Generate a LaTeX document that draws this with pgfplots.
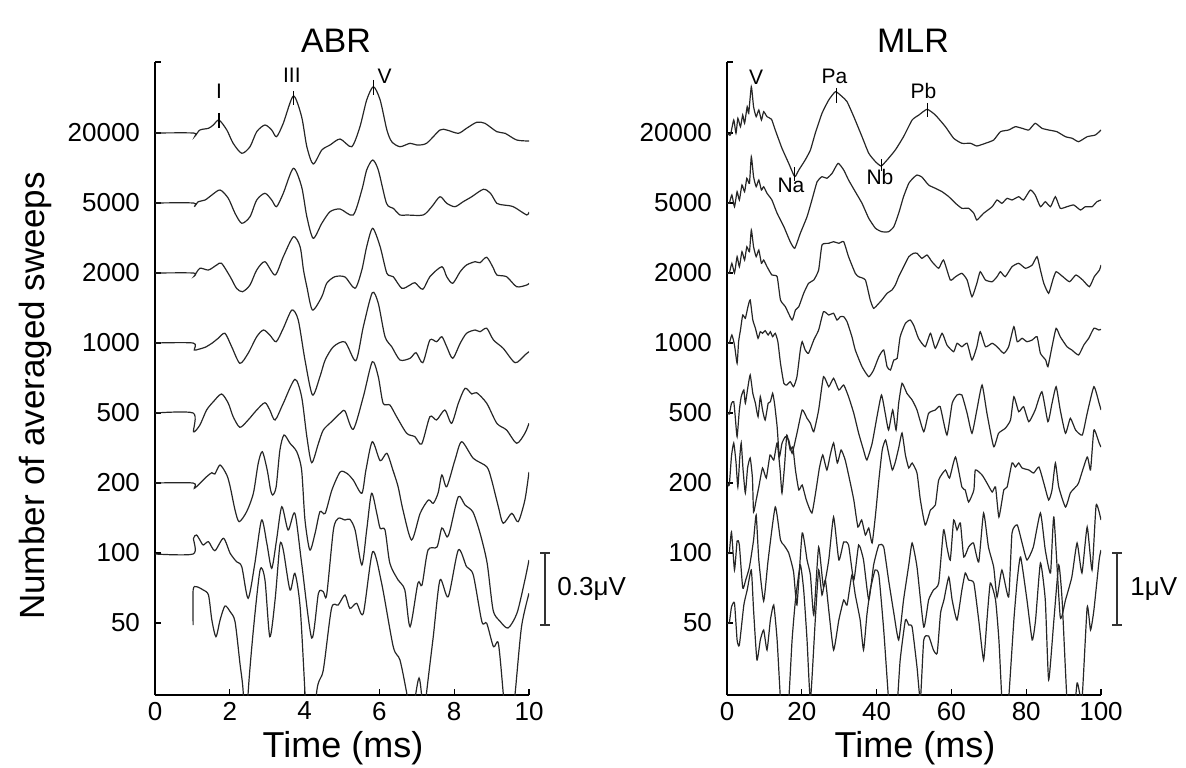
\documentclass[border=0pt]{standalone}
\usepackage{fontspec}
\setmainfont{Liberation Sans}
\usepackage{pgfplots}
\pgfplotsset{compat=1.18}
\pgfplotsset{
  trace/.style={black!85, line width=0.6pt, smooth, tension=0.45, no markers},
  mtrace/.style={black!85, line width=0.6pt, smooth, tension=0.3, no markers},
  pk/.style={black, line width=0.6pt, no markers},
  panel/.style={
    anchor=south west, width=187pt, height=316.5pt, scale only axis,
    ymin=-695, ymax=-62,
    axis x line=bottom, axis y line=left,
    axis line style={-, line width=0.6pt},
    ytick={-62,-133,-203,-273,-343,-413,-483,-553,-623},
    yticklabels={,20000,5000,2000,1000,500,200,100,50},
    tick align=inside, major tick length=3pt,
    tick style={black, line width=0.6pt},
    ticklabel style={font=\fontsize{13}{15}\selectfont},
    yticklabel style={xshift=-4pt},
  },
}
\begin{document}
\begin{tikzpicture}
\useasboundingbox (-77.5pt,-36pt) rectangle (515.5pt,347.5pt);
% ---------------- ABR ----------------
\begin{axis}[panel, at={(0pt,0pt)}, xmin=0, xmax=10,
  xtick={0,2,4,6,8,10}, xticklabels={0,2,4,6,8,10}]
\addplot[trace] coordinates {(0,-133) (1.03,-133) (1.07,-136) (1.20,-130) (1.43,-128.3) (1.56,-125) (1.71,-120) (1.92,-130) (2.09,-143.3) (2.32,-153.3) (2.54,-146.7) (2.72,-131.7) (2.94,-125) (3.12,-130) (3.25,-136.7) (3.43,-123.3) (3.70,-96) (3.92,-116.7) (4.06,-146.7) (4.23,-164) (4.46,-150) (4.68,-145) (4.95,-139) (5.26,-146.7) (5.48,-126.7) (5.66,-100) (5.84,-86.7) (6.02,-100) (6.20,-130) (6.33,-141.7) (6.55,-146.7) (6.82,-143.3) (7.00,-145) (7.26,-143.3) (7.62,-130) (7.80,-130) (8.11,-133.3) (8.33,-128.3) (8.60,-122.3) (8.82,-123.3) (9.14,-131.7) (9.36,-133.3) (9.67,-140) (10,-141)};
\addplot[trace] coordinates {(0,-203) (1.03,-203) (1.05,-206.7) (1.16,-201.7) (1.34,-200) (1.52,-195) (1.74,-190) (1.96,-198.3) (2.14,-213.3) (2.32,-223.3) (2.54,-216.7) (2.72,-200) (2.94,-193.3) (3.12,-200) (3.25,-206.7) (3.43,-193.3) (3.70,-168.3) (3.92,-186.7) (4.06,-216.7) (4.23,-238.3) (4.46,-223.3) (4.68,-211.7) (4.95,-209) (5.30,-215) (5.53,-190) (5.66,-170) (5.82,-160) (5.97,-170) (6.19,-203.3) (6.37,-208.3) (6.55,-215) (6.73,-215) (7.17,-215) (7.40,-206.7) (7.62,-196.7) (7.80,-203.3) (8.02,-206.7) (8.24,-201.7) (8.47,-196.7) (8.78,-189.3) (8.97,-193.3) (9.14,-203.3) (9.32,-205) (9.58,-206.7) (9.94,-215) (10,-212)};
\addplot[trace] coordinates {(0,-273) (1.03,-273) (1.05,-276) (1.20,-268.3) (1.43,-270) (1.65,-265) (1.78,-263.3) (2.01,-276.7) (2.18,-288.3) (2.34,-291.7) (2.54,-285) (2.72,-270) (2.94,-261.7) (3.21,-275) (3.43,-256.7) (3.70,-236.7) (3.88,-246.7) (3.97,-270) (4.06,-286.7) (4.21,-310) (4.46,-296.7) (4.59,-283.3) (4.81,-276.7) (5.08,-277) (5.35,-288.3) (5.53,-270) (5.66,-246.7) (5.82,-228.3) (6.02,-246.7) (6.20,-273.3) (6.37,-276.7) (6.60,-288.3) (6.82,-285) (6.95,-282.7) (7.16,-289.3) (7.35,-276.7) (7.67,-266.7) (7.80,-276.7) (7.96,-283.3) (8.16,-271.7) (8.33,-265) (8.56,-261.7) (8.69,-262.7) (8.87,-257.3) (9.05,-268.3) (9.14,-275) (9.40,-276.7) (9.67,-286.7) (9.94,-285) (10,-283.3)};
\addplot[trace] coordinates {(0,-343) (1.02,-343) (1.05,-350) (1.16,-349.3) (1.34,-347.3) (1.52,-343.3) (1.69,-338.3) (1.87,-333.3) (2.05,-346.7) (2.27,-363.3) (2.49,-353.3) (2.72,-336.7) (2.90,-330) (3.07,-335) (3.24,-341.7) (3.43,-328.3) (3.66,-310) (3.83,-320) (4.01,-360) (4.21,-395) (4.41,-376.7) (4.55,-360) (4.77,-346.7) (5.08,-342) (5.37,-360.7) (5.57,-326.7) (5.81,-292.7) (5.97,-303.3) (6.15,-336.7) (6.33,-346.7) (6.55,-360) (6.82,-358.3) (6.98,-352.7) (7.16,-362.7) (7.35,-340) (7.53,-341.7) (7.67,-336.7) (7.80,-346.7) (7.96,-358.3) (8.16,-343.3) (8.33,-333.3) (8.56,-330) (8.69,-331.7) (8.87,-328.3) (9.05,-340) (9.31,-348.3) (9.63,-362.7) (9.89,-355) (10,-351.7)};
\addplot[trace] coordinates {(0,-413) (1.02,-413) (1.03,-431.7) (1.20,-425) (1.38,-410) (1.56,-401.7) (1.78,-394) (1.96,-403.3) (2.09,-416.7) (2.27,-427.3) (2.49,-420) (2.72,-410) (2.94,-402.7) (3.07,-410) (3.21,-420) (3.43,-403.3) (3.74,-379.3) (3.92,-396.7) (4.06,-436.7) (4.19,-462.7) (4.37,-443.3) (4.50,-430) (4.72,-421.7) (4.95,-413.3) (5.08,-411) (5.30,-429.3) (5.57,-396.7) (5.81,-361.7) (5.97,-376.7) (6.10,-403.3) (6.28,-405) (6.46,-416.7) (6.73,-433.3) (6.95,-436.7) (7.13,-444) (7.35,-416.7) (7.53,-420) (7.75,-410) (7.93,-423.3) (8.11,-403.3) (8.29,-388.3) (8.47,-394) (8.60,-392.7) (8.87,-403.3) (9.14,-423.3) (9.40,-430) (9.67,-443.3) (9.89,-433.3) (10,-423.3)};
\addplot[trace] coordinates {(0,-483) (1.02,-483) (1.05,-488.3) (1.20,-483.3) (1.38,-476.7) (1.52,-472.7) (1.60,-474) (1.74,-465) (1.92,-475) (2.01,-486.7) (2.14,-510) (2.25,-521.7) (2.45,-511.7) (2.63,-493.3) (2.76,-463.3) (2.87,-451.7) (3.00,-470) (3.09,-490) (3.15,-495) (3.24,-486.7) (3.34,-450) (3.45,-435) (3.61,-443.3) (3.79,-451.7) (3.92,-470) (4.01,-520) (4.14,-550) (4.28,-533.3) (4.41,-511.7) (4.55,-513.3) (4.73,-490) (4.95,-472) (5.13,-473.3) (5.30,-480) (5.53,-493.3) (5.64,-470) (5.81,-441.7) (6.02,-460.7) (6.20,-453.3) (6.36,-470) (6.50,-486.7) (6.63,-510) (6.86,-540) (7.09,-513.3) (7.31,-500) (7.44,-503.3) (7.57,-493) (7.67,-475) (7.80,-486.7) (8.02,-460) (8.20,-441.7) (8.51,-458.3) (8.87,-466.7) (9.00,-480) (9.18,-506.7) (9.31,-523.3) (9.54,-513.3) (9.71,-521.7) (9.89,-500) (10,-472)};
\addplot[trace] coordinates {(0,-554) (1.02,-554) (1.03,-538.3) (1.11,-535) (1.20,-540) (1.29,-545) (1.43,-541.7) (1.60,-550.7) (1.83,-538.3) (2.01,-553.3) (2.18,-561.7) (2.32,-566.7) (2.49,-598.3) (2.67,-563.3) (2.85,-520) (2.99,-543.3) (3.12,-568.3) (3.25,-540) (3.39,-506.7) (3.56,-530) (3.74,-513.3) (3.92,-563) (4.19,-638) (4.37,-593.3) (4.50,-591.7) (4.59,-595) (4.77,-530) (4.90,-518.3) (5.08,-520) (5.21,-519.3) (5.35,-530) (5.53,-565) (5.66,-530) (5.79,-493.3) (5.93,-513.3) (6.02,-528.3) (6.15,-530) (6.28,-563.3) (6.50,-580) (6.68,-590) (6.82,-626.7) (7.03,-583) (7.14,-585) (7.30,-550) (7.54,-547) (7.67,-528) (7.81,-537) (7.89,-530) (8.11,-496.7) (8.29,-505) (8.50,-512) (8.69,-533) (8.88,-563) (9.04,-610) (9.22,-621) (9.44,-628) (9.68,-613) (9.89,-580) (10,-560)};
\addplot[trace] coordinates {(1.02,-625) (1.02,-590) (1.11,-586.7) (1.29,-590) (1.43,-595) (1.52,-620) (1.63,-636.7) (1.74,-620) (1.87,-606) (2.01,-611.7) (2.14,-621.7) (2.27,-663) (2.36,-693) (2.42,-760) (2.49,-693) (2.63,-630) (2.81,-570) (2.94,-580) (3.07,-636.7) (3.21,-600) (3.34,-545) (3.43,-550) (3.61,-590) (3.74,-573.3) (3.88,-606.7) (4.01,-693) (4.15,-800) (4.32,-693) (4.50,-670) (4.72,-608.3) (4.90,-605) (5.08,-595) (5.21,-608.3) (5.39,-603.3) (5.57,-613.3) (5.82,-551.7) (6.06,-583.3) (6.37,-646.7) (6.55,-660) (6.73,-693) (6.85,-720) (7.06,-678) (7.20,-720) (7.26,-693) (7.44,-636.7) (7.62,-580) (7.84,-596.7) (8.11,-550) (8.33,-566.7) (8.51,-575) (8.74,-621.7) (8.87,-623.3) (9.05,-646.7) (9.18,-643.3) (9.31,-693) (9.45,-760) (9.63,-693) (9.80,-626.7) (10,-593.3)};
% peak markers
\addplot[pk] coordinates {(1.71,-113) (1.71,-128)};
\addplot[pk] coordinates {(3.70,-91) (3.70,-105)};
\addplot[pk] coordinates {(5.84,-80) (5.84,-95)};
\node[font=\fontsize{10.5}{12}\selectfont, inner sep=0pt] at (axis cs:1.71,-91.5) {I};
\node[font=\fontsize{10.5}{12}\selectfont, inner sep=0pt] at (axis cs:3.66,-75.5) {III};
\node[font=\fontsize{10.5}{12}\selectfont, inner sep=0pt] at (axis cs:6.14,-76.5) {V};
\end{axis}
% ---------------- MLR ----------------
\begin{axis}[panel, at={(286pt,0pt)}, xmin=0, xmax=100,
  xtick={0,20,40,60,80,100}, xticklabels={0,20,40,60,80,100}]
\addplot[mtrace] coordinates {(0,-133) (0.9,-135) (1.8,-120) (2.4,-133.3) (2.9,-118.3) (3.6,-126.7) (4.2,-115) (4.7,-123.3) (5.4,-106.7) (5.8,-113.3) (6.5,-86.7) (7.1,-106.7) (7.8,-116.7) (8.5,-110) (9.2,-120) (9.8,-111.7) (10.7,-116.7) (11.9,-119.3) (12.9,-130) (14.7,-148.3) (16.5,-163.3) (18.1,-176.7) (19.2,-170) (20.9,-160) (22.3,-150) (23.6,-133.3) (25.4,-113.3) (27.2,-100) (29.0,-91.7) (30.8,-96.7) (32.1,-101.7) (33.9,-116.7) (36.1,-136.7) (37.9,-153.3) (39.7,-161.7) (41.2,-166) (42.8,-160) (45.0,-150) (47.2,-136.7) (49.5,-120) (51.3,-115) (53.5,-109.3) (55.7,-115) (58.4,-126.7) (60.6,-138.3) (62.8,-143.3) (65.1,-143.3) (66.8,-146) (69.1,-143.3) (71.3,-140) (73.1,-131.7) (75.3,-130) (77.1,-126.7) (78.9,-128.3) (80.7,-130) (82.4,-123.3) (84.2,-128.3) (86.0,-130) (88.2,-131.7) (90.5,-136.7) (92.3,-138.3) (94.0,-141.7) (96.3,-136.7) (98.5,-135) (100,-130)};
\addplot[mtrace] coordinates {(0,-203) (0.6,-203.3) (1.3,-195) (2.0,-206.7) (2.7,-191.7) (3.3,-200) (4.0,-185) (4.7,-191.7) (5.3,-178.3) (6.0,-183.3) (6.5,-156.7) (7.1,-176.7) (7.8,-186.7) (8.5,-180) (9.2,-190) (9.8,-186.7) (10.7,-193.3) (12.0,-200) (13.4,-213.3) (15.2,-226.7) (16.9,-241.7) (18.1,-248.3) (19.6,-233.3) (21.4,-216.7) (22.7,-200) (24.1,-181.7) (25.4,-176.7) (26.7,-178.3) (28.1,-173.3) (29.7,-163.3) (31.2,-170) (32.5,-180) (34.3,-191.7) (36.1,-203.3) (37.9,-218.3) (39.7,-228.3) (41.4,-231.7) (43.2,-231.7) (44.6,-226.7) (45.9,-213.3) (47.2,-196.7) (48.6,-183.3) (49.8,-178) (50.8,-175) (52.1,-177) (53.9,-185) (55.7,-188.3) (57.5,-191.7) (59.3,-196.7) (61.1,-203.3) (62.8,-208.3) (64.6,-208.3) (66.0,-213.3) (66.8,-220) (68.6,-213.3) (70.9,-206.7) (72.2,-200) (73.5,-203.3) (74.9,-198.3) (76.2,-200) (78.0,-196.7) (79.3,-200) (81.1,-190) (82.4,-195) (83.8,-206.7) (85.1,-201.7) (86.5,-206.7) (87.8,-196.7) (89.1,-208.3) (90.9,-206.7) (92.7,-205) (94.5,-210) (95.8,-206.7) (97.6,-206.7) (98.9,-201.7) (100,-200)};
\addplot[mtrace] coordinates {(0,-273) (0.6,-273.3) (1.3,-263.3) (2.0,-273) (2.7,-256.7) (3.3,-266.7) (4.0,-251.7) (4.7,-260) (5.3,-246.7) (6.0,-251.7) (6.5,-230) (7.1,-246.7) (7.8,-256.7) (8.5,-250) (9.2,-263.3) (9.8,-260) (10.7,-266.7) (12.0,-275) (13.4,-276.7) (14.3,-300) (15.6,-306.7) (17.4,-320) (18.3,-310) (19.2,-306.7) (20.5,-293.3) (21.8,-283.3) (23.2,-280) (24.5,-270) (25.4,-245) (27.2,-243.3) (28.5,-241.7) (29.9,-243.3) (31.2,-241.7) (32.5,-256.7) (34.3,-273.3) (35.2,-276.7) (37.0,-280) (38.3,-300) (39.2,-308.3) (40.6,-303.3) (41.4,-300) (42.8,-293.3) (44.1,-290) (45.0,-285) (45.9,-276.7) (46.8,-270) (48.6,-256.7) (49.9,-253.3) (50.8,-253.3) (52.1,-258.3) (53.5,-255) (54.8,-261.7) (56.6,-268.3) (57.9,-260) (59.7,-280) (61.1,-276.7) (62.8,-273.3) (64.2,-280) (65.5,-296.7) (66.8,-283.3) (67.7,-271.7) (69.1,-280) (70.9,-281.7) (72.2,-276.7) (73.1,-271.7) (74.4,-276.7) (76.2,-266.7) (78.0,-263.3) (79.8,-268.3) (81.6,-265) (82.9,-256.7) (83.8,-270) (84.7,-283.3) (86.0,-293.3) (87.1,-280) (88.0,-271.7) (89.8,-276.7) (91.6,-281.7) (93.3,-275) (95.1,-280) (96.9,-286.7) (98.2,-276.7) (99.6,-270) (100,-265)};
\addplot[mtrace] coordinates {(0,-343) (0.6,-343.3) (1.3,-335) (2.0,-345) (2.7,-363.3) (3.1,-341.7) (3.6,-330) (4.2,-315) (4.9,-318.3) (5.6,-306.7) (6.2,-300) (6.9,-320) (7.6,-328.3) (8.3,-338.3) (8.9,-331.7) (9.5,-333.3) (10.2,-330.7) (11.0,-335) (11.6,-331.7) (12.2,-336.7) (12.9,-333.3) (13.6,-341.7) (14.3,-363.3) (15.2,-383.3) (16.0,-385) (16.9,-381.7) (17.8,-386.7) (18.7,-376.7) (19.6,-350) (20.1,-341.7) (20.9,-350) (21.8,-353.3) (23.2,-340) (24.5,-330) (25.8,-311.7) (27.2,-315) (28.5,-313.3) (29.4,-320) (30.3,-316.7) (31.2,-316.7) (32.1,-321.7) (33.4,-336.7) (34.3,-350) (36.1,-366.7) (37.9,-376.7) (39.2,-370) (40.6,-356.7) (41.9,-350) (42.8,-366.7) (43.7,-370) (44.6,-360) (45.5,-358.3) (46.3,-336.7) (47.7,-323.3) (49.0,-320) (50.0,-326) (51.2,-338.3) (53.0,-346.7) (54.4,-333.3) (55.7,-348.3) (57.5,-333.3) (58.8,-345) (60.6,-351.7) (61.5,-343.3) (62.8,-346.7) (64.2,-343.3) (65.5,-360) (66.8,-346.7) (67.7,-331.7) (69.1,-346.7) (70.9,-343.3) (72.2,-346.7) (74.0,-353.3) (75.3,-346.7) (76.7,-326.7) (77.6,-341.7) (78.9,-338.3) (80.2,-341.7) (81.6,-340) (82.9,-336.7) (83.8,-353.3) (85.2,-360) (85.8,-366.7) (86.9,-346.7) (88.0,-328.3) (89.1,-336.7) (90.9,-346.7) (92.2,-350) (94.0,-355) (95.4,-345) (96.7,-338.3) (98.1,-328.3) (99.4,-330) (100,-329.3)};
\addplot[mtrace] coordinates {(0,-413) (0.6,-414) (1.2,-403.3) (1.8,-401.7) (2.2,-416.7) (2.7,-436.7) (3.3,-410) (3.8,-396.7) (4.5,-390) (4.9,-403.3) (5.6,-386.7) (6.2,-375) (6.9,-393.3) (7.6,-403.3) (8.3,-416.7) (8.9,-396.7) (9.5,-410) (10.2,-420) (11.0,-403.3) (11.6,-401.7) (12.2,-393.3) (12.7,-403.3) (13.4,-426.7) (14.0,-456.7) (14.7,-443.3) (15.6,-436.7) (16.5,-440) (17.4,-453.3) (18.7,-433.3) (20.1,-410) (21.4,-418.3) (22.3,-423.3) (23.2,-431.7) (24.5,-410) (25.8,-376.7) (27.2,-386.7) (28.5,-378.3) (29.9,-390) (31.2,-385) (32.5,-396.7) (33.9,-413.3) (35.2,-433.3) (36.5,-450) (37.4,-460) (38.8,-443.3) (40.1,-416.7) (41.3,-395) (42.3,-413.3) (43.2,-430) (44.3,-410) (45.2,-430) (45.9,-403.3) (46.8,-383.3) (48.1,-393.3) (49.5,-400) (50.8,-410) (52.6,-431.7) (53.9,-413.3) (55.7,-410) (57.0,-406.7) (58.8,-435) (60.2,-403.3) (61.5,-395) (62.8,-395) (64.2,-413.3) (65.5,-433.3) (66.8,-410) (68.2,-385) (69.5,-413.3) (71.3,-446.7) (72.6,-433.3) (74.4,-428.3) (75.8,-420) (76.7,-396.7) (78.0,-411.7) (79.3,-406.7) (80.7,-421.7) (82.4,-410) (84.2,-391.7) (85.8,-421.7) (86.9,-403.3) (88.0,-386.7) (89.1,-410) (90.5,-433.3) (91.8,-418.3) (93.2,-430) (95.0,-435) (96.3,-413.3) (98.1,-386.7) (99.5,-403.3) (100,-410)};
\addplot[mtrace] coordinates {(0,-483) (0.6,-485) (1.2,-456) (1.8,-443) (2.4,-462) (2.9,-487) (3.4,-458) (3.8,-443) (4.3,-470) (4.9,-493) (5.5,-468) (6.2,-458) (6.8,-478) (7.1,-512) (7.8,-500) (8.5,-487) (9.5,-468) (10.5,-478) (11.5,-455) (12.5,-460) (13.4,-443) (14.2,-470) (14.7,-493) (15.4,-465) (16.0,-435) (16.9,-450) (17.6,-447) (18.3,-470) (19.2,-490) (20.1,-485) (21.2,-500) (22.7,-513) (23.8,-490) (24.7,-468) (25.6,-455) (26.7,-470) (27.6,-455) (28.5,-443) (29.5,-463) (30.5,-450) (31.6,-460) (32.8,-480) (33.9,-500) (35.0,-527) (36.0,-520) (37.0,-535) (37.9,-528) (38.8,-543) (39.7,-515) (40.6,-480) (41.5,-450) (42.4,-440) (43.3,-455) (44.2,-470) (45.0,-462) (45.9,-448) (46.8,-433) (47.7,-455) (48.6,-468) (49.5,-463) (50.8,-473) (51.7,-500) (53.0,-525) (54.4,-510) (55.7,-505) (56.6,-480) (58.4,-470) (59.5,-478) (61.1,-457) (62.8,-487) (63.7,-490) (64.6,-502) (66.0,-490) (66.4,-470) (68.2,-475) (69.5,-483) (70.9,-492) (71.8,-487) (72.7,-517) (74.0,-490) (74.9,-487) (76.2,-463) (77.1,-467) (78.0,-463) (78.9,-468) (80.7,-470) (82.0,-473) (83.4,-467) (84.7,-483) (86.0,-500) (86.9,-490) (87.8,-463) (88.7,-487) (90.5,-507) (91.8,-493) (93.2,-487) (94.0,-483) (96.3,-457) (97.2,-470) (98.1,-430) (99.5,-443) (100,-447)};
\addplot[mtrace] coordinates {(0,-553) (0.6,-553) (1.2,-532) (2.0,-570) (2.7,-541) (3.3,-545) (4.2,-588) (5.0,-580) (6.0,-567) (7.1,-540) (7.8,-515) (8.5,-560) (9.8,-601) (11.0,-560) (12.9,-507) (14.3,-540) (15.2,-545) (16.5,-553) (17.8,-572) (18.7,-605) (20.1,-533) (21.4,-560) (22.3,-575) (23.2,-615) (24.5,-547) (25.8,-587) (27.2,-560) (28.5,-517) (29.9,-560) (31.2,-542) (32.5,-545) (33.9,-580) (35.2,-545) (36.5,-560) (37.9,-600) (39.2,-565) (40.6,-545) (41.9,-547) (43.2,-580) (44.6,-613) (45.9,-640) (47.2,-600) (48.6,-565) (49.5,-543) (50.8,-567) (52.6,-627) (53.9,-600) (55.2,-590) (56.6,-583) (57.9,-530) (58.8,-547) (59.7,-560) (60.6,-520) (61.5,-530) (62.4,-523) (63.3,-557) (64.6,-547) (65.9,-543) (67.3,-562) (68.6,-513) (69.9,-547) (71.3,-567) (72.2,-597) (73.5,-570) (75.3,-597) (76.2,-533) (77.6,-525) (78.9,-543) (80.2,-560) (81.9,-547) (83.8,-513) (85.1,-550) (86.5,-573) (87.4,-517) (89.1,-617) (90.5,-600) (92.2,-577) (93.6,-543) (94.9,-573) (96.3,-527) (97.6,-570) (98.7,-505) (100,-520)};
\addplot[mtrace] coordinates {(0,-623) (0.6,-623) (1.2,-607) (2.0,-603) (2.7,-640) (3.3,-645) (4.5,-605) (5.4,-590) (6.5,-570) (7.1,-610) (8.0,-660) (8.9,-640) (9.8,-630) (10.7,-650) (11.6,-620) (12.5,-605) (13.4,-640) (14.3,-700) (15.2,-740) (16.5,-700) (17.4,-640) (18.3,-600) (19.6,-565) (20.5,-590) (21.4,-640) (22.3,-700) (23.6,-620) (24.5,-570) (25.4,-595) (26.3,-580) (27.2,-610) (28.5,-650) (29.9,-620) (31.2,-600) (32.1,-605) (33.4,-575) (34.3,-595) (35.6,-620) (36.5,-650) (37.4,-615) (38.3,-590) (39.6,-570) (40.6,-575) (41.9,-630) (43.2,-700) (44.1,-740) (45.4,-710) (46.3,-660) (47.7,-620) (48.6,-625) (49.5,-627) (50.8,-667) (51.7,-700) (52.6,-640) (53.9,-636) (55.2,-650) (56.2,-653) (57.1,-613) (58.0,-600) (59.3,-577) (60.2,-600) (61.5,-620) (62.8,-590) (63.7,-573) (64.6,-580) (66.0,-583) (67.3,-620) (68.6,-660) (69.5,-620) (70.4,-583) (71.8,-600) (72.7,-640) (73.5,-700) (74.4,-740) (75.3,-700) (76.7,-620) (77.6,-580) (78.5,-557) (80.2,-600) (81.6,-640) (82.5,-620) (83.8,-563) (85.1,-600) (86.0,-680) (87.4,-620) (88.7,-565) (89.6,-600) (90.9,-700) (92.2,-740) (93.6,-683) (94.9,-700) (96.3,-607) (97.2,-630) (98.1,-610) (99.5,-560) (100,-550)};
% peak markers
\addplot[pk] coordinates {(29.2,-88) (29.2,-103)};
\addplot[pk] coordinates {(53.5,-103) (53.5,-117)};
\addplot[pk] coordinates {(18.1,-167) (18.1,-181)};
\addplot[pk] coordinates {(41.2,-159) (41.2,-171)};
\node[font=\fontsize{10.5}{12}\selectfont, inner sep=0pt] at (axis cs:7.8,-77) {V};
\node[font=\fontsize{10.5}{12}\selectfont, inner sep=0pt] at (axis cs:28.7,-76.5) {Pa};
\node[font=\fontsize{10.5}{12}\selectfont, inner sep=0pt] at (axis cs:52.5,-90.5) {Pb};
\node[font=\fontsize{10.5}{12}\selectfont, inner sep=0pt] at (axis cs:17.1,-185.5) {Na};
\node[font=\fontsize{10.5}{12}\selectfont, inner sep=0pt] at (axis cs:40.9,-176.5) {Nb};
\end{axis}
% titles and labels
\node[font=\fontsize{17}{20}\selectfont, anchor=base, inner sep=0pt] at (90.5pt,321pt) {ABR};
\node[font=\fontsize{17}{20}\selectfont, anchor=base, inner sep=0pt] at (379pt,321pt) {MLR};
\node[font=\fontsize{18}{20}\selectfont, anchor=base, inner sep=0pt] at (94pt,-31pt) {Time (ms)};
\node[font=\fontsize{18}{20}\selectfont, anchor=base, inner sep=0pt] at (380pt,-31pt) {Time (ms)};
\node[font=\fontsize{17.5}{20}\selectfont, anchor=base, inner sep=0pt, rotate=90] at (-55pt,149.5pt) {Number of averaged sweeps};
% scale bars
\draw[black!80, line width=0.6pt] (195pt,71pt) -- (195pt,35pt);
\draw[black!80, line width=0.6pt] (192.5pt,71pt) -- (197.5pt,71pt);
\draw[black!80, line width=0.6pt] (192.5pt,35pt) -- (197.5pt,35pt);
\node[font=\fontsize{13}{15}\selectfont, anchor=west, inner sep=0pt] at (201pt,53pt) {0.3μV};
\draw[black!80, line width=0.6pt] (481pt,71pt) -- (481pt,35pt);
\draw[black!80, line width=0.6pt] (478.5pt,71pt) -- (483.5pt,71pt);
\draw[black!80, line width=0.6pt] (478.5pt,35pt) -- (483.5pt,35pt);
\node[font=\fontsize{13}{15}\selectfont, anchor=west, inner sep=0pt] at (487.5pt,53pt) {1μV};
\end{tikzpicture}
\end{document}
